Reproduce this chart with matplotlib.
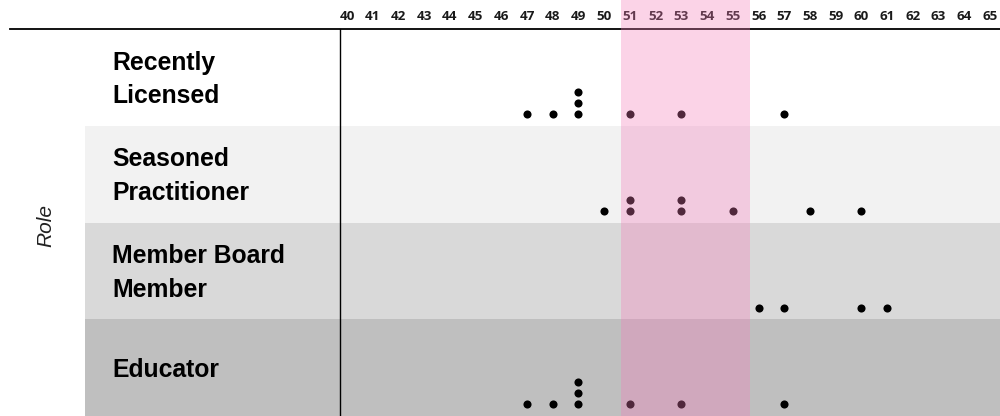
import matplotlib.pyplot as plt

# Daten
roles = ['Recently\nLicensed', 'Seasoned\nPractitioner', 'Member Board\nMember', 'Educator']
band_colors = ['#ffffff', '#f2f2f2', '#d9d9d9', '#bfbfbf']
ticks = list(range(40, 66))
highlight = (51, 55)

# Werte je Rolle (jeder Wert = ein Punkt, doppelte Werte werden gestapelt)
recently_licensed = [47, 48, 49, 49, 49, 51, 53, 57]
seasoned_practitioner = [50, 51, 51, 53, 53, 55, 58, 60]
member_board = [56, 57, 60, 61]
educator = [47, 48, 49, 49, 49, 51, 53, 57]
values = [recently_licensed, seasoned_practitioner, member_board, educator]

fig = plt.figure(figsize=(10, 4.16), dpi=100)
ax = fig.add_axes([0, 0, 1, 1])

step = 25.72
x0 = 40 - 347 / step
x1 = 40 + 653 / step
ax.set_xlim(x0, x1)
ax.set_ylim(4, -0.30)
ax.axis('off')

# Zeilenhintergrund
for i, c in enumerate(band_colors):
    ax.axhspan(i, i + 1, xmin=85 / 1000, xmax=1, color=c, zorder=0, lw=0)

# Linien
ax.plot([x0 + 10 / step, x1], [0, 0], color='black', lw=1.3, zorder=2)
ax.plot([x0 + 340 / step, x0 + 340 / step], [0, 4], color='black', lw=1.0, zorder=2)

# Achsenbeschriftung oben
for t in ticks:
    ax.text(t, -0.125, str(t), ha='center', va='center', fontsize=9.6,
            fontweight='bold', family='Open Sans', color='#1a1a1a', zorder=2)

# Punkte
for i, vals in enumerate(values):
    seen = {}
    xs, ys = [], []
    for v in vals:
        k = seen.get(v, 0)
        seen[v] = k + 1
        xs.append(v)
        ys.append(i + 0.88 - k * 0.114)
    ax.scatter(xs, ys, s=34, color='black', zorder=3, lw=0)

# Rollen
for i, r in enumerate(roles):
    ax.text(x0 + 112 / step, i + 0.52, r, ha='left', va='center', fontsize=17.8,
            fontweight='bold', family='Liberation Sans', linespacing=1.5, zorder=3)

ax.text(x0 + 46 / step, 2.03, 'Role', rotation=90, ha='center', va='center',
        fontsize=15, fontstyle='italic', family='Liberation Sans', color='#222222')

# Markierter Bereich
ax.axvspan(highlight[0] - 0.33, highlight[1] + 0.67, color='#f57bb9', alpha=0.33, lw=0, zorder=4)

fig.savefig('out.png', dpi=100)
